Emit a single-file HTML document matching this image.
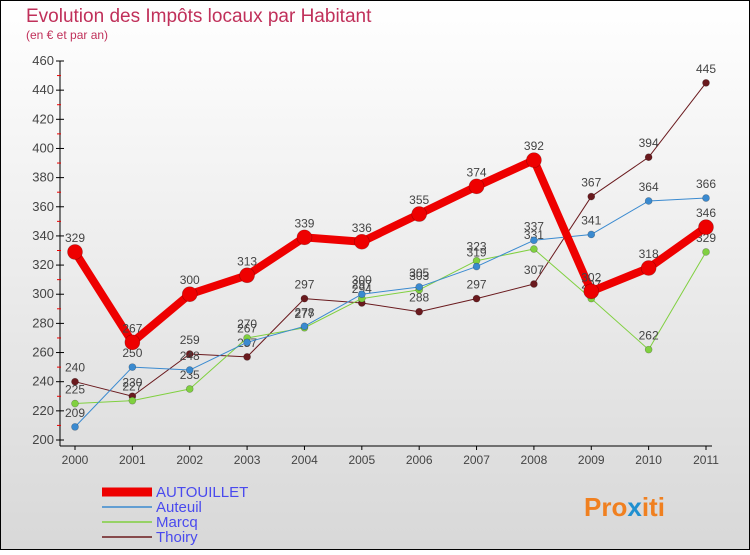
<!DOCTYPE html>
<html><head><meta charset="utf-8"><style>
body{margin:0;width:750px;height:550px;overflow:hidden;font-family:"Liberation Sans",sans-serif}
</style></head><body>
<svg width="750" height="550" xmlns="http://www.w3.org/2000/svg" font-family="Liberation Sans, sans-serif">
<defs><linearGradient id="bg" x1="0" y1="0" x2="0" y2="1"><stop offset="0" stop-color="#ffffff"/><stop offset="1" stop-color="#d8d8d8"/></linearGradient></defs>
<rect x="0.5" y="0.5" width="749" height="549" fill="url(#bg)" stroke="#000"/>
<text x="26" y="22" font-size="19" fill="#c0305a" font-weight="300">Evolution des Impôts locaux par Habitant</text>
<text x="26" y="39" font-size="12" fill="#c0305a">(en € et par an)</text>
<g id="axes"></g>
<g id="series"></g>
<g id="legend"></g>
<text x="584" y="516" font-size="26" font-weight="bold" fill="#f08020">Pro<tspan fill="#2090d0">x</tspan>iti</text>
</svg>
<script>
const years=["2000","2001","2002","2003","2004","2005","2006","2007","2008","2009","2010","2011"];
const autouillet=[329,267,300,313,339,336,355,374,392,302,318,346];
const auteuil=[209,250,248,267,278,300,305,319,337,341,364,366];
const marcq=[225,227,235,270,277,297,303,323,331,297,262,329];
const thoiry=[240,230,259,257,297,294,288,297,307,367,394,445];
const yTicks=[200,220,240,260,280,300,320,340,360,380,400,420,440,460];
const NS="http://www.w3.org/2000/svg";
const x=i=>75+i*(706-75)/11;
const y=v=>440-(v-200)*(440-61)/260;
function mk(t,a,p){const e=document.createElementNS(NS,t);for(const k in a)e.setAttribute(k,a[k]);p.appendChild(e);return e;}
const ax=document.getElementById('axes');
let l=mk('line',{x1:60,y1:61,x2:60,y2:446,stroke:'#000'},ax);


l=mk('line',{x1:60,y1:446,x2:712,y2:446,stroke:'#000'},ax);


yTicks.forEach((v,i)=>{mk('line',{x1:56,y1:y(v),x2:64,y2:y(v),stroke:'#000'},ax);
if(i<yTicks.length-1)mk('line',{x1:57,y1:y(v+10),x2:61,y2:y(v+10),stroke:'#e00'},ax);
const t=mk('text',{x:54,y:y(v)+4,'font-size':13,'text-anchor':'end',fill:'#444'},ax);t.textContent=v;

});
years.forEach((yr,i)=>{mk('line',{x1:x(i),y1:446,x2:x(i),y2:450,stroke:'#000'},ax);
const t=mk('text',{x:x(i),y:464,'font-size':12,'text-anchor':'middle',fill:'#444'},ax);t.textContent=yr;

});
const S=document.getElementById('series');
const series=[["thoiry",thoiry,"#6a1a1e",1,3.5,"Thoiry"],["marcq",marcq,"#80d040",1,3.5,"Marcq"],["auteuil",auteuil,"#3a8ad0",1,3.5,"Auteuil"],["autouillet",autouillet,"#ee0000",8,7.5,"AUTOUILLET"]];
series.forEach(([n,d,c,w,r])=>{const g=mk('g',{},S);


mk('polyline',{points:d.map((v,i)=>x(i)+','+y(v)).join(' '),fill:'none',stroke:c,'stroke-width':w,'stroke-linejoin':'round'},g);
d.forEach((v,i)=>{const p=mk('circle',{cx:x(i),cy:y(v),r:r,fill:c,stroke:'rgba(0,0,0,0.3)','stroke-width':0.6},g);


const t=mk('text',{x:x(i),y:y(v)-10,'font-size':12,'text-anchor':'middle',fill:'#444'},g);t.textContent=v;

});});
const L=document.getElementById('legend');
[["autouillet","#ee0000",9,"AUTOUILLET"],["auteuil","#3a8ad0",1.5,"Auteuil"],["marcq","#80d040",1.5,"Marcq"],["thoiry","#6a1a1e",1.5,"Thoiry"]].forEach(([n,c,w,lab],i)=>{
const yy=492+i*15;const g=mk('g',{},L);


mk('line',{x1:102,y1:yy,x2:152,y2:yy,stroke:c,'stroke-width':w},g);
const t=mk('text',{x:156,y:yy+5,'font-size':15,fill:'#4a4aee'},g);t.textContent=lab;});
</script>
</body></html>
